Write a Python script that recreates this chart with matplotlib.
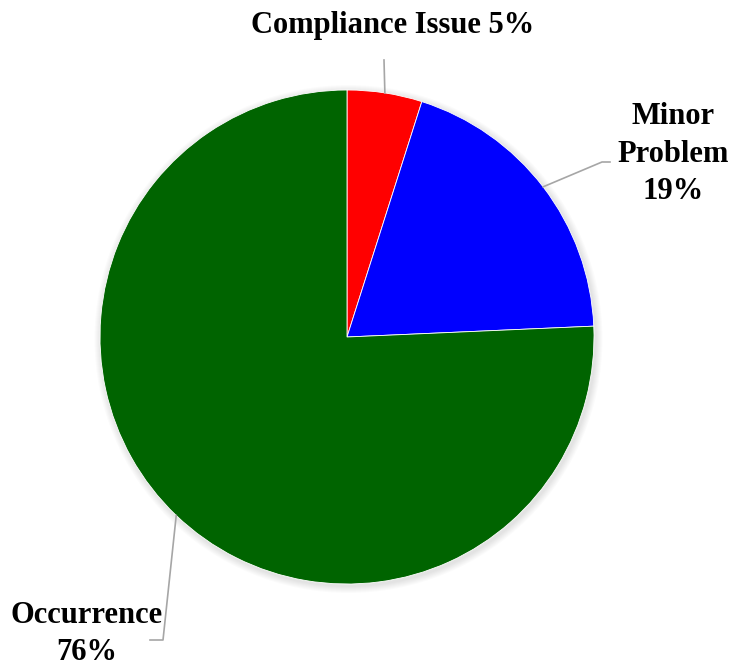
import matplotlib.pyplot as plt
import numpy as np
from matplotlib.patches import Circle

categories = ['Compliance Issue', 'Minor Problem', 'Occurrence']
shares = [4.9, 19.4, 75.7]
colors = ['#ff0000', '#0000ff', '#006400']
label_fmt = ['{c} {p}%', 'Minor\nProblem\n{p}%', '{c}\n{p}%']

W, H = 735, 669
fig = plt.figure(figsize=(W / 100, H / 100), dpi=100)
ax = fig.add_axes([0, 0, 1, 1])

cx, cy, r = 347, H - 337, 247

# soft shadow around the pie
for i in range(1, 8):
    ax.add_patch(Circle((cx + 1.5, cy - 2), r + i, color='black', alpha=0.014, lw=0, zorder=0))

wedges, _ = ax.pie(shares, colors=colors, startangle=90, counterclock=False,
                   center=(cx, cy), radius=r, frame=True,
                   wedgeprops=dict(edgecolor='white', linewidth=0.6))
ax.set_xlim(0, W)
ax.set_ylim(0, H)
ax.set_aspect('equal')
ax.axis('off')

# leader lines: from wedge middle on the rim to the label
elbows = [[(384, 60)], [(602, 162), (610, 162)], [(163, 640), (150, 640)]]
label_pos = [(393, 25), (673, 154), (87, 634)]

for w, pts, pos, fmt, c, s in zip(wedges, elbows, label_pos, label_fmt, categories, shares):
    mid = np.deg2rad((w.theta1 + w.theta2) / 2)
    x0, y0 = cx + r * np.cos(mid), cy + r * np.sin(mid)
    xs = [x0] + [p[0] for p in pts]
    ys = [y0] + [H - p[1] for p in pts]
    ax.plot(xs, ys, color='#a6a6a6', lw=1.2, zorder=1)
    ax.text(pos[0], H - pos[1], fmt.format(c=c, p=round(s)), ha='center', va='center',
            fontsize=22, fontweight='bold', family='Liberation Serif', linespacing=1.4)

fig.savefig('out.png', dpi=100)
